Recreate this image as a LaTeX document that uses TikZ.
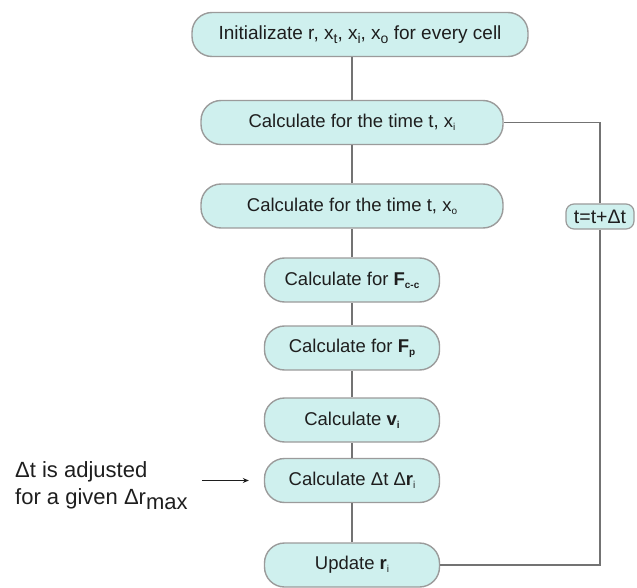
\documentclass[tikz,border=0pt]{standalone}
\usepackage{fontspec}
\setmainfont{Liberation Sans}
\usetikzlibrary{arrows.meta}
\definecolor{boxfill}{RGB}{207,240,238}
\definecolor{boxline}{RGB}{155,155,155}
\definecolor{connclr}{RGB}{115,115,115}
\definecolor{txt}{RGB}{30,30,30}
\newcommand\sbs[1]{\raisebox{-3pt}{\fontsize{10}{10}\selectfont #1}}
\newcommand\sbl[1]{\raisebox{-4pt}{\fontsize{14}{14}\selectfont #1}}
\begin{document}
\begin{tikzpicture}[x=1pt,y=-1pt,
  flowbox/.style={draw=boxline, line width=1.4pt, fill=boxfill, rounded corners=20pt,
    inner sep=0pt, text=txt, font=\fontsize{18.5}{22}\selectfont, minimum height=44pt},
  connline/.style={draw=connclr, line width=1.5pt},
  notearrow/.style={draw=txt, line width=1pt, -{Stealth[length=6pt,width=5pt]}}]
\useasboundingbox (0,0) rectangle (637,588);
\node[flowbox, minimum width=336pt, font=\fontsize{19}{22}\selectfont] (init) at (360,34.5)
  {Initializate r, x\sbl{t}, x\sbl{i}, x\sbl{o} for every cell};
\node[flowbox, minimum width=302pt] (xi) at (352,122.5) {Calculate for the time t, x\sbs{i}};
\node[flowbox, minimum width=302pt] (xo) at (352,206) {Calculate for the time t, x\sbs{o}};
\node[flowbox, minimum width=175pt] (fcc) at (352,280) {Calculate for \textbf{F\sbs{c-c}}};
\node[flowbox, minimum width=175pt] (fp) at (352,348) {Calculate for \textbf{F\sbs{p}}};
\node[flowbox, minimum width=175pt] (vi) at (352,420) {Calculate \textbf{v\sbs{i}}};
\node[flowbox, minimum width=175pt] (dt) at (352,480.5) {Calculate Δt Δ\textbf{r}\sbs{i}};
\node[flowbox, minimum width=175pt] (up) at (352,565) {Update \textbf{r}\sbs{i}};
\node[draw=boxline, line width=1.2pt, fill=boxfill, rounded corners=8pt, minimum width=68pt,
  minimum height=25pt, inner sep=0pt, text=txt, font=\fontsize{19.5}{22}\selectfont] (tt) at (600,216.5) {t=t+Δt};
\node[align=left, anchor=north west, inner sep=0pt, text=txt, font=\fontsize{22}{27}\selectfont] (note) at (15,461)
  {Δt is adjusted\\for a given Δr\raisebox{-5pt}{max}};
\draw[connline] (xi.north) -- (xi.north |- init.south);
\draw[connline] (xo.north) -- (xi.south);
\draw[connline] (fcc.north) -- (fcc.north |- xo.south);
\draw[connline] (fp.north) -- (fcc.south);
\draw[connline] (vi.north) -- (fp.south);
\draw[connline] (dt.north) -- (vi.south);
\draw[connline] (up.north) -- (dt.south);
\draw[connline] (up.east) -| (tt.south);
\draw[connline] (tt.north) |- (xi.east);
\draw[notearrow] ([xshift=14pt]note.east |- dt.west) -- ([xshift=-15pt]dt.west);
\end{tikzpicture}
\end{document}
